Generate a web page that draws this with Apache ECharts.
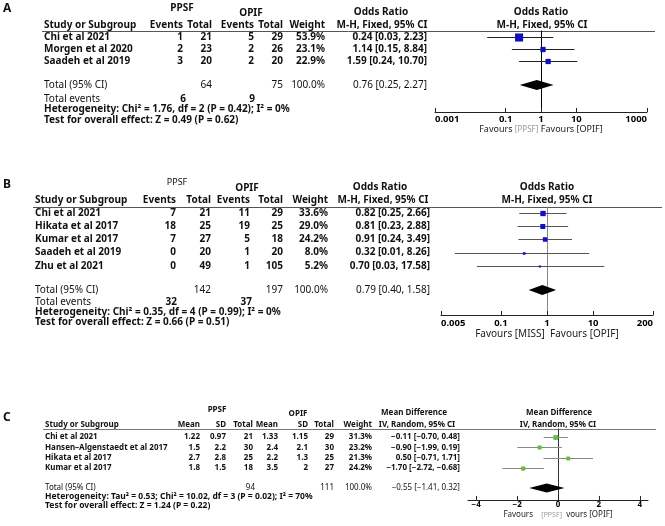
<!DOCTYPE html>
<html><head><meta charset="utf-8">
<script src="https://cdn.jsdelivr.net/npm/echarts@6/dist/echarts.min.js"></script>
<style>html,body{margin:0;padding:0;background:#fff}#c{width:665px;height:526px}</style>
</head><body><div id="c"></div>
<script>
// ---------- Panel A data ----------
const studiesA = ['Chi et al 2021', 'Morgen et al 2020', 'Saadeh et al 2019'];
const ppsfEventsA = [1, 2, 3];
const ppsfTotalA = [21, 23, 20];
const opifEventsA = [5, 2, 2];
const opifTotalA = [29, 26, 20];
const weightA = [53.9, 23.1, 22.9];
const orA = [0.24, 1.14, 1.59];
const lowA = [0.03, 0.15, 0.24];
const highA = [2.23, 8.84, 10.70];
const pooledA = [0.76, 0.25, 2.27];
const groupTotalsA = [64, 75];
const totalEventsA = [6, 9];
const hetA = 'Heterogeneity: Chi\u00b2 = 1.76, df = 2 (P = 0.42); I\u00b2 = 0%';
const testA = 'Test for overall effect: Z = 0.49 (P = 0.62)';
const ticksA = [0.001, 0.1, 1, 10, 1000];

// ---------- Panel B data ----------
const studiesB = ['Chi et al 2021', 'Hikata et al 2017', 'Kumar et al 2017', 'Saadeh et al 2019', 'Zhu et al 2021'];
const ppsfEventsB = [7, 18, 7, 0, 0];
const ppsfTotalB = [21, 25, 27, 20, 49];
const opifEventsB = [11, 19, 5, 1, 1];
const opifTotalB = [29, 25, 18, 20, 105];
const weightB = [33.6, 29.0, 24.2, 8.0, 5.2];
const orB = [0.82, 0.81, 0.91, 0.32, 0.70];
const lowB = [0.25, 0.23, 0.24, 0.01, 0.03];
const highB = [2.66, 2.88, 3.49, 8.26, 17.58];
const pooledB = [0.79, 0.40, 1.58];
const groupTotalsB = [142, 197];
const totalEventsB = [32, 37];
const hetB = 'Heterogeneity: Chi\u00b2 = 0.35, df = 4 (P = 0.99); I\u00b2 = 0%';
const testB = 'Test for overall effect: Z = 0.66 (P = 0.51)';
const ticksB = [0.005, 0.1, 1, 10, 200];

// ---------- Panel C data ----------
const studiesC = ['Chi et al 2021', 'Hansen\u2013Algenstaedt et al 2017', 'Hikata et al 2017', 'Kumar et al 2017'];
const ppsfMeanC = ['1.22', '1.5', '2.7', '1.8'];
const ppsfSdC = ['0.97', '2.2', '2.8', '1.5'];
const ppsfTotalC = [21, 30, 25, 18];
const opifMeanC = ['1.33', '2.4', '2.2', '3.5'];
const opifSdC = ['1.15', '2.1', '1.3', '2'];
const opifTotalC = [29, 30, 25, 27];
const weightC = [31.3, 23.2, 21.3, 24.2];
const mdC = [-0.11, -0.90, 0.50, -1.70];
const lowC = [-0.70, -1.99, -0.71, -2.72];
const highC = [0.48, 0.19, 1.71, -0.68];
const pooledC = [-0.55, -1.41, 0.32];
const groupTotalsC = [94, 111];
const hetC = 'Heterogeneity: Tau\u00b2 = 0.53; Chi\u00b2 = 10.02, df = 3 (P = 0.02); I\u00b2 = 70%';
const testC = 'Test for overall effect: Z = 1.24 (P = 0.22)';
const ticksC = [-4, -2, 0, 2, 4];

// ---------- layout ----------
const FONT = '"Noto Sans", "Open Sans", sans-serif';
const INK = '#111';
const layA = {sep: 31, step: 12, off: 0.5, totalRow: 4.5, yMax: 6.75, gridL: 435, gridR: 647, left: 44, lineR: 655};
const layB = {sep: 207, step: 13.2, off: 0.45, totalRow: 6.29, yMax: 8.18, gridL: 441, gridR: 653, left: 35, lineR: 662};
const layC = {sep: 429, step: 10.3, off: 0.78, totalRow: 5.73, yMax: 6.89, gridL: 468, gridR: 648, left: 45, lineR: 656};
const FS = 10, FSC = 8;

const rowY = (lay, r) => lay.sep + r * lay.step;
const fmt2 = v => (v < 0 ? '\u2212' : '') + Math.abs(v).toFixed(2);
const ci = (e, l, h) => fmt2(e) + ' [' + fmt2(l) + ', ' + fmt2(h) + ']';
const pct = v => v.toFixed(1) + '%';

const G = [];
function txt(x, y, s, o) {
  o = o || {};
  G.push({type: 'text', x: x, y: y, silent: true, style: {
    text: String(s), fill: o.color || INK, align: o.align || 'left', verticalAlign: 'middle',
    fontSize: o.size || FS, fontWeight: o.bold === false ? 'normal' : 'bold', fontFamily: FONT}});
}
function hline(x1, x2, y, color) {
  G.push({type: 'line', silent: true, shape: {x1: x1, y1: y + 0.5, x2: x2, y2: y + 0.5}, style: {stroke: color || '#555', lineWidth: 1}});
}

// ---- Panel A table ----
txt(3, 9, 'A', {size: 12});
txt(182, 8, 'PPSF', {align: 'center'});
txt(251, 13, 'OPIF', {align: 'center'});
txt(381, 12, 'Odds Ratio', {align: 'center'});
txt(541, 12, 'Odds Ratio', {align: 'center'});
txt(layA.left, 25, 'Study or Subgroup');
[['Events', 183], ['Total', 212], ['Events', 254], ['Total', 283], ['Weight', 325]].forEach(c => txt(c[1], 25, c[0], {align: 'right'}));
txt(382, 25, 'M-H, Fixed, 95% CI', {align: 'center'});
txt(542, 25, 'M-H, Fixed, 95% CI', {align: 'center'});
hline(layA.left - 2, layA.lineR, layA.sep, '#555');
studiesA.forEach((s, i) => {
  const y = rowY(layA, layA.off + i);
  txt(layA.left, y, s);
  txt(183, y, ppsfEventsA[i], {align: 'right'});
  txt(212, y, ppsfTotalA[i], {align: 'right'});
  txt(254, y, opifEventsA[i], {align: 'right'});
  txt(283, y, opifTotalA[i], {align: 'right'});
  txt(325, y, pct(weightA[i]), {align: 'right'});
  txt(427, y, ci(orA[i], lowA[i], highA[i]), {align: 'right'});
});
(function () {
  const y = rowY(layA, layA.totalRow);
  txt(layA.left, y, 'Total (95% CI)', {bold: false});
  txt(212, y, groupTotalsA[0], {align: 'right', bold: false});
  txt(283, y, groupTotalsA[1], {align: 'right', bold: false});
  txt(325, y, '100.0%', {align: 'right', bold: false});
  txt(427, y, ci(pooledA[0], pooledA[1], pooledA[2]), {align: 'right', bold: false});
  txt(layA.left, 99, 'Total events', {bold: false});
  txt(186, 99, totalEventsA[0], {align: 'right'});
  txt(255, 99, totalEventsA[1], {align: 'right'});
  txt(layA.left, 109, hetA);
  txt(layA.left, 120, testA);
})();

// ---- Panel B table ----
txt(3, 185, 'B', {size: 12});
txt(177, 182, 'PPSF', {align: 'center', bold: false, size: 9});
txt(247, 188, 'OPIF', {align: 'center'});
txt(380, 187, 'Odds Ratio', {align: 'center'});
txt(547, 187, 'Odds Ratio', {align: 'center'});
txt(layB.left, 200, 'Study or Subgroup');
[['Events', 176], ['Total', 211], ['Events', 250], ['Total', 283], ['Weight', 328]].forEach(c => txt(c[1], 200, c[0], {align: 'right'}));
txt(383, 200, 'M-H, Fixed, 95% CI', {align: 'center'});
txt(547, 200, 'M-H, Fixed, 95% CI', {align: 'center'});
hline(layB.left - 2, layB.lineR, layB.sep, '#555');
studiesB.forEach((s, i) => {
  const y = rowY(layB, layB.off + i);
  txt(layB.left, y, s);
  txt(176, y, ppsfEventsB[i], {align: 'right'});
  txt(211, y, ppsfTotalB[i], {align: 'right'});
  txt(250, y, opifEventsB[i], {align: 'right'});
  txt(283, y, opifTotalB[i], {align: 'right'});
  txt(328, y, pct(weightB[i]), {align: 'right'});
  txt(430, y, ci(orB[i], lowB[i], highB[i]), {align: 'right'});
});
(function () {
  const y = rowY(layB, layB.totalRow);
  txt(layB.left, y, 'Total (95% CI)', {bold: false});
  txt(211, y, groupTotalsB[0], {align: 'right', bold: false});
  txt(283, y, groupTotalsB[1], {align: 'right', bold: false});
  txt(328, y, '100.0%', {align: 'right', bold: false});
  txt(430, y, ci(pooledB[0], pooledB[1], pooledB[2]), {align: 'right', bold: false});
  txt(layB.left, 302, 'Total events', {bold: false});
  txt(177, 302, totalEventsB[0], {align: 'right'});
  txt(252, 302, totalEventsB[1], {align: 'right'});
  txt(layB.left, 312, hetB);
  txt(layB.left, 322, testB);
})();

// ---- Panel C table ----
txt(3, 418, 'C', {size: 12});
const hC = {align: 'center', size: FSC};
txt(217, 410, 'PPSF', hC);
txt(298, 414, 'OPIF', hC);
txt(414, 413, 'Mean Difference', hC);
txt(559, 413, 'Mean Difference', hC);
txt(layC.left, 425, 'Study or Subgroup', {size: FSC});
[['Mean', 200], ['SD', 226], ['Total', 253], ['Mean', 278], ['SD', 308], ['Total', 334], ['Weight', 372]].forEach(c => txt(c[1], 425, c[0], {align: 'right', size: FSC}));
txt(417, 425, 'IV, Random, 95% CI', hC);
txt(558, 425, 'IV, Random, 95% CI', hC);
hline(layC.left - 2, layC.lineR, layC.sep, '#777');
studiesC.forEach((s, i) => {
  const y = rowY(layC, layC.off + i);
  const o = {align: 'right', size: FSC};
  txt(layC.left, y, s, {size: FSC});
  txt(200, y, ppsfMeanC[i], o);
  txt(226, y, ppsfSdC[i], o);
  txt(253, y, ppsfTotalC[i], o);
  txt(278, y, opifMeanC[i], o);
  txt(308, y, opifSdC[i], o);
  txt(334, y, opifTotalC[i], o);
  txt(372, y, pct(weightC[i]), o);
  txt(460, y, ci(mdC[i], lowC[i], highC[i]), o);
});
(function () {
  const y = rowY(layC, layC.totalRow);
  const o = {align: 'right', size: FSC, bold: false};
  txt(layC.left, y, 'Total (95% CI)', {size: FSC, bold: false});
  txt(255, y, groupTotalsC[0], o);
  txt(334, y, groupTotalsC[1], o);
  txt(372, y, '100.0%', o);
  txt(460, y, ci(pooledC[0], pooledC[1], pooledC[2]), o);
  txt(layC.left, 497, hetC, {size: 8.5});
  txt(layC.left, 506, testC, {size: 8.5});
})();

// ---------- series builders ----------
const lg = Math.log10;
function studyData(est, lo, hi, w, lay, tf) {
  return est.map((e, i) => [tf(e), tf(lo[i]), tf(hi[i]), lay.off + i, w[i]]);
}
function studyRender(k, sq, ln) {
  return function (params, api) {
    const y = api.value(3);
    const p = api.coord([api.value(0), y]);
    const pl = api.coord([api.value(1), y]);
    const ph = api.coord([api.value(2), y]);
    const s = Math.max(2, k * Math.sqrt(api.value(4)));
    const yy = Math.round(p[1]) + 0.5;
    return {type: 'group', children: [
      {type: 'line', shape: {x1: pl[0], y1: yy, x2: ph[0], y2: yy}, style: {stroke: ln, lineWidth: 1}},
      {type: 'rect', shape: {x: p[0] - s / 2, y: yy - s / 2, width: s, height: s}, style: {fill: sq}}
    ]};
  };
}
function diamondRender(h) {
  return function (params, api) {
    const y = api.value(3);
    const c = api.coord([api.value(0), y]);
    const l = api.coord([api.value(1), y]);
    const r = api.coord([api.value(2), y]);
    return {type: 'polygon', shape: {points: [[l[0], c[1]], [c[0], c[1] - h], [r[0], c[1]], [c[0], c[1] + h]]}, style: {fill: '#000'}};
  };
}
function tickLabel(ticks, tf, v) {
  let best = ticks[0], d = Infinity;
  ticks.forEach(t => { const dd = Math.abs(tf(t) - v); if (dd < d) { d = dd; best = t; } });
  return best < 0 ? '\u2212' + Math.abs(best) : String(best);
}
function xAxisFor(idx, ticks, tf, min, max, nameRich, nameGap, margin, fs, nfs, alignEnds) {
  const cv = ticks.map(tf);
  const lbl = {customValues: cv, formatter: v => tickLabel(ticks, tf, v), margin: margin, color: '#000',
    fontWeight: 'bold', fontSize: fs, fontFamily: FONT};
  if (alignEnds) { lbl.alignMinLabel = 'left'; lbl.alignMaxLabel = 'right'; }
  return {gridIndex: idx, type: 'value', min: min, max: max, position: 'bottom',
    axisLine: {onZero: false, lineStyle: {color: '#222', width: 1}},
    axisTick: {inside: true, length: 4, customValues: cv, lineStyle: {color: '#222'}},
    axisLabel: lbl, splitLine: {show: false},
    name: nameRich.text, nameLocation: 'middle', nameGap: nameGap,
    nameTextStyle: {color: '#222', fontSize: nfs, fontFamily: FONT, rich: nameRich.rich}};
}
function yAxisFor(idx, lay, color) {
  return {gridIndex: idx, type: 'value', min: 0, max: lay.yMax, inverse: true,
    axisLine: {show: true, onZero: true, lineStyle: {color: color, width: 1}},
    axisTick: {show: false}, axisLabel: {show: false}, splitLine: {show: false}};
}
function gridFor(lay) {
  return {left: lay.gridL, width: lay.gridR - lay.gridL, top: lay.sep, height: lay.yMax * lay.step};
}
const idf = v => v;

const option = {
  animation: false,
  backgroundColor: '#fff',
  grid: [gridFor(layA), gridFor(layB), gridFor(layC)],
  xAxis: [
    xAxisFor(0, ticksA, lg, lg(ticksA[0]), lg(ticksA[ticksA.length - 1]),
      {text: 'Favours {g|[PPSF]} Favours [OPIF]', rich: {g: {color: '#999', fontSize: 8, fontFamily: FONT}}}, 10, 2, 9.5, 9, true),
    xAxisFor(1, ticksB, lg, lg(ticksB[0]), lg(ticksB[ticksB.length - 1]),
      {text: 'Favours [MISS]  Favours [OPIF]', rich: {}}, 13, 3, 9.5, 10, true),
    xAxisFor(2, ticksC, idf, -4.4, 4.4,
      {text: 'Favours    {g|[PPSF]}  vours [OPIF]', rich: {g: {color: '#999', fontSize: 7, fontFamily: FONT}}}, 11, 1, 8, 8, false)
  ],
  yAxis: [yAxisFor(0, layA, '#000'), yAxisFor(1, layB, '#888'), yAxisFor(2, layC, '#333')],
  series: [
    {type: 'custom', xAxisIndex: 0, yAxisIndex: 0, clip: false, renderItem: studyRender(1.1, '#1010b8', '#222'),
      data: studyData(orA, lowA, highA, weightA, layA, lg)},
    {type: 'custom', xAxisIndex: 0, yAxisIndex: 0, clip: false, renderItem: diamondRender(5),
      data: [[lg(pooledA[0]), lg(pooledA[1]), lg(pooledA[2]), layA.totalRow]]},
    {type: 'custom', xAxisIndex: 1, yAxisIndex: 1, clip: false, renderItem: studyRender(0.92, '#1010c8', '#555'),
      data: studyData(orB, lowB, highB, weightB, layB, lg)},
    {type: 'custom', xAxisIndex: 1, yAxisIndex: 1, clip: false, renderItem: diamondRender(5),
      data: [[lg(pooledB[0]), lg(pooledB[1]), lg(pooledB[2]), layB.totalRow]]},
    {type: 'custom', xAxisIndex: 2, yAxisIndex: 2, clip: false, renderItem: studyRender(0.85, '#66bb44', '#888'),
      data: studyData(mdC, lowC, highC, weightC, layC, idf)},
    {type: 'custom', xAxisIndex: 2, yAxisIndex: 2, clip: false, renderItem: diamondRender(4.5),
      data: [[pooledC[0], pooledC[1], pooledC[2], layC.totalRow]]}
  ],
  graphic: G
};
const chart = echarts.init(document.getElementById('c'), null, {renderer: 'canvas'});
chart.setOption(option);
</script>
</body></html>
